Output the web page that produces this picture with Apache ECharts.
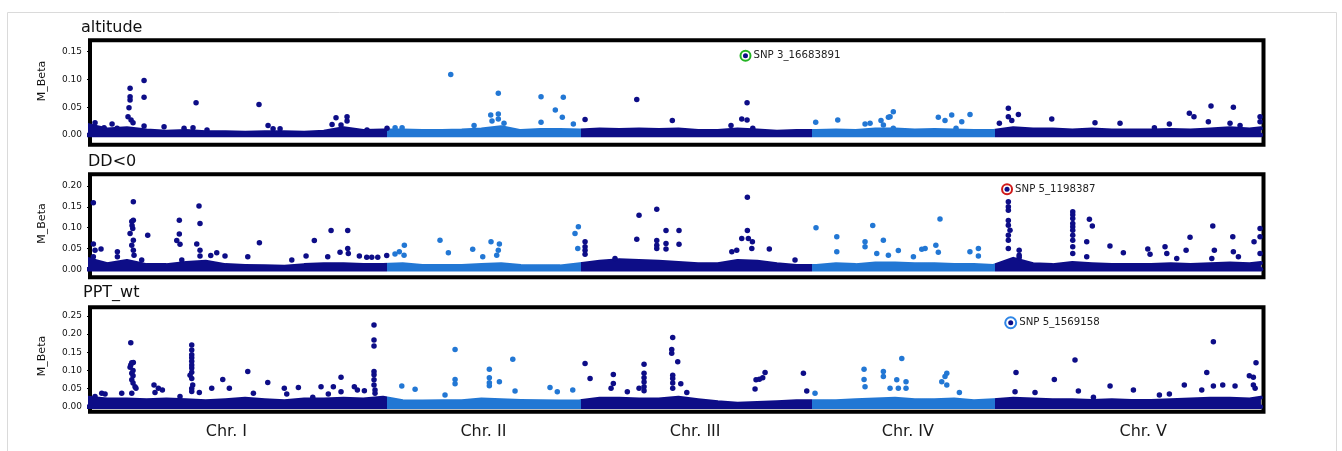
<!DOCTYPE html>
<html><head><meta charset="utf-8">
<script src="https://cdn.jsdelivr.net/npm/echarts@6/dist/echarts.min.js"></script>
<style>html,body{margin:0;padding:0;background:#fff}#c{width:1342px;height:451px}</style>
</head><body><div id="c"></div>
<script>
// ---------- data ----------
const chrNames = ['Chr. I', 'Chr. II', 'Chr. III', 'Chr. IV', 'Chr. V'];
const chrLengthsMb = [30.427671, 19.698289, 23.459830, 18.585056, 26.975502];
const chrLabelPos = [14.1, 40.2, 61.7, 83.3, 107.2];
const traitNames = ['altitude', 'DD<0', 'PPT_wt'];
const yTicksAltitude = [0, 0.05, 0.10, 0.15];
const yTicksDD = [0, 0.05, 0.10, 0.15, 0.20];
const yTicksPPT = [0, 0.05, 0.10, 0.15, 0.20, 0.25];

// top SNPs: [label, chromosome, position (bp), M_Beta]
const topSnpAltitude = ['SNP 3_16683891', 3, 16683891, 0.1426];
const topSnpDD = ['SNP 5_1198387', 5, 1198387, 0.192];
const topSnpPPT = ['SNP 5_1569158', 5, 1569158, 0.2315];

// dense background band (upper envelope of the many small effects), genome position in Mb
const bandPos = [0,2,4,6,8,10,12,14,16,18,20,22,24,26,28,30,32,34,36,38,40,42,44,46,48,50,52,54,56,58,
  60,62,64,66,68,70,72,74,76,78,80,82,84,86,88,90,92,94,96,98,100,102,104,106,108,110,112,114,116,118,119.15];
const altitudeBand = [0.018,0.010,0.012,0.008,0.006,0.007,0.005,0.005,0.004,0.005,
  0.005,0.004,0.006,0.012,0.007,0.008,0.008,0.007,0.007,0.008,
  0.010,0.014,0.007,0.009,0.009,0.008,0.010,0.009,0.010,0.009,
  0.010,0.007,0.007,0.010,0.008,0.006,0.007,0.007,0.008,0.007,
  0.010,0.010,0.008,0.009,0.008,0.007,0.007,0.012,0.010,0.010,
  0.008,0.010,0.008,0.008,0.008,0.009,0.008,0.010,0.012,0.010,0.012];
const ddBand = [0.025,0.012,0.020,0.010,0.010,0.015,0.018,0.010,0.008,0.007,
  0.006,0.010,0.012,0.012,0.010,0.010,0.012,0.008,0.008,0.008,
  0.010,0.012,0.008,0.007,0.007,0.012,0.018,0.022,0.020,0.018,
  0.015,0.012,0.012,0.020,0.018,0.012,0.008,0.008,0.012,0.010,
  0.014,0.014,0.012,0.012,0.010,0.010,0.008,0.025,0.012,0.010,
  0.015,0.012,0.010,0.010,0.010,0.012,0.010,0.012,0.014,0.012,0.015];
const pptBand = [0.025,0.020,0.020,0.018,0.020,0.018,0.015,0.018,0.022,0.018,
  0.015,0.020,0.020,0.022,0.020,0.025,0.015,0.014,0.015,0.015,
  0.020,0.018,0.016,0.015,0.014,0.015,0.022,0.022,0.020,0.020,
  0.025,0.018,0.012,0.008,0.010,0.012,0.015,0.015,0.015,0.018,
  0.020,0.022,0.018,0.018,0.020,0.015,0.018,0.022,0.020,0.018,
  0.018,0.016,0.018,0.016,0.016,0.018,0.020,0.022,0.022,0.020,0.025];

// individual SNPs above the band: [genome position Mb, M_Beta]
const altitudePoints = [
  [0.76,0.022],[1.68,0.013],[2.49,0.020],[3.0,0.012],[4.32,0.084],[4.32,0.069],[4.32,0.063],[4.21,0.049],
  [4.11,0.033],[4.42,0.027],[4.62,0.022],[5.74,0.098],[5.74,0.068],[5.74,0.016],[7.77,0.015],[9.8,0.012],
  [10.71,0.013],[11.02,0.058],[12.13,0.009],[17.41,0.055],[18.33,0.017],[18.84,0.011],[19.55,0.011],
  [24.83,0.019],[25.23,0.031],[25.74,0.018],[26.35,0.033],[26.35,0.025],[28.38,0.009],[30.41,0.012],
  [31.23,0.013],[31.94,0.013],[36.88,0.109],[41.71,0.075],[40.94,0.036],[41.71,0.038],[41.71,0.029],
  [42.29,0.021],[39.25,0.017],[41.07,0.025],[46.05,0.069],[46.05,0.023],[47.5,0.045],[48.31,0.068],
  [48.21,0.032],[49.33,0.020],[50.52,0.028],[55.77,0.064],[59.38,0.026],[65.34,0.017],[66.43,0.029],
  [66.97,0.058],[66.97,0.027],[67.55,0.012],[73.94,0.023],[76.18,0.027],[78.95,0.020],[79.46,0.021],
  [80.57,0.026],[81.32,0.032],[81.82,0.042],[81.49,0.033],[81.82,0.012],[80.81,0.018],[86.39,0.032],
  [87.07,0.026],[87.75,0.036],[88.77,0.024],[88.19,0.012],[89.61,0.037],[92.59,0.021],[93.5,0.048],
  [93.5,0.033],[94.52,0.037],[93.85,0.026],[97.91,0.029],[102.3,0.022],[104.84,0.021],[108.33,0.013],
  [109.85,0.020],[111.88,0.039],[112.35,0.033],[114.08,0.052],[113.81,0.024],[116.35,0.050],
  [116.01,0.021],[117.03,0.017],[119.06,0.033],[119.06,0.024]
];
const ddPoints = [
  [0.59,0.160],[0.59,0.061],[0.76,0.046],[0.59,0.030],[1.37,0.049],[3.03,0.042],[3.03,0.030],
  [4.65,0.162],[4.65,0.118],[4.49,0.115],[4.59,0.098],[4.32,0.086],[4.65,0.070],[4.49,0.058],
  [4.65,0.046],[4.72,0.034],[4.52,0.105],[5.5,0.022],[6.11,0.082],[9.32,0.118],[9.32,0.085],
  [9.06,0.069],[9.39,0.060],[9.57,0.022],[11.32,0.152],[11.42,0.110],[11.09,0.061],[11.42,0.046],
  [11.42,0.032],[12.51,0.033],[13.12,0.040],[13.96,0.032],[16.27,0.030],[17.45,0.064],[20.74,0.022],
  [22.19,0.032],[23.03,0.069],[24.39,0.030],[24.73,0.093],[25.64,0.041],[26.42,0.093],[26.42,0.050],
  [26.48,0.038],[27.6,0.032],[28.35,0.029],[28.86,0.029],[29.47,0.029],[30.38,0.033],[31.22,0.037],
  [31.66,0.042],[32.17,0.058],[32.14,0.034],[35.79,0.070],[36.64,0.040],[39.11,0.048],[40.13,0.030],
  [40.97,0.066],[41.82,0.061],[41.71,0.046],[41.55,0.034],[49.5,0.086],[49.84,0.102],[49.78,0.050],
  [50.52,0.066],[50.52,0.054],[50.52,0.046],[50.52,0.036],[53.56,0.026],[56.0,0.130],[55.77,0.072],
  [57.8,0.144],[57.8,0.069],[57.8,0.058],[57.8,0.050],[58.74,0.093],[58.74,0.062],[58.74,0.049],
  [60.06,0.093],[60.06,0.060],[67.0,0.173],[67.0,0.093],[66.43,0.074],[67.1,0.074],[67.51,0.066],
  [67.45,0.050],[65.92,0.046],[65.42,0.042],[69.23,0.049],[71.84,0.022],[73.97,0.100],[76.08,0.078],
  [76.08,0.042],[79.73,0.105],[78.95,0.066],[78.95,0.054],[80.81,0.070],[80.14,0.038],[82.33,0.045],
  [81.32,0.034],[83.86,0.030],[84.71,0.048],[85.05,0.050],[86.14,0.058],[86.56,0.121],[86.39,0.041],
  [89.6,0.042],[90.46,0.050],[90.46,0.032],
  [93.5,0.162],[93.5,0.150],[93.5,0.142],[93.5,0.117],[93.5,0.106],[93.67,0.094],[93.5,0.082],
  [93.5,0.070],[93.5,0.050],[94.6,0.046],[94.6,0.034],[94.6,0.028],
  [100.04,0.138],[100.04,0.131],[100.04,0.122],[100.04,0.110],[100.04,0.102],[100.04,0.094],
  [100.04,0.082],[100.04,0.070],[100.04,0.054],[100.04,0.038],
  [101.73,0.120],[102.03,0.104],[101.46,0.066],[101.46,0.030],[103.82,0.056],[105.18,0.040],
  [107.66,0.049],[107.89,0.036],[109.41,0.054],[109.59,0.038],[110.6,0.026],[111.55,0.046],
  [111.95,0.077],[114.26,0.104],[114.42,0.046],[114.16,0.026],[116.29,0.078],[116.35,0.042],
  [116.86,0.030],[118.45,0.066],[119.06,0.098],[119.06,0.078],[119.06,0.038]
];
const pptPoints = [
  [0.76,0.028],[1.44,0.037],[1.78,0.035],[3.47,0.037],
  [4.39,0.176],[4.49,0.121],[4.39,0.115],[4.32,0.109],[4.65,0.122],[4.49,0.092],[4.49,0.074],
  [4.82,0.055],[4.92,0.051],[4.49,0.037],[4.62,0.085],[4.62,0.100],[4.62,0.065],
  [6.75,0.060],[7.19,0.051],[7.6,0.046],[6.85,0.039],[9.39,0.028],
  [10.58,0.170],[10.58,0.156],[10.58,0.143],[10.58,0.135],[10.58,0.125],[10.58,0.115],[10.58,0.107],
  [10.58,0.095],[10.41,0.087],[10.58,0.078],[10.68,0.060],[10.58,0.050],[10.58,0.042],
  [11.35,0.039],[12.61,0.051],[13.73,0.075],[14.4,0.051],[16.27,0.097],[16.84,0.037],[18.3,0.067],
  [19.98,0.051],[20.23,0.035],[21.41,0.053],[22.87,0.026],[23.71,0.055],[24.45,0.035],[24.96,0.055],
  [25.74,0.081],[25.74,0.041],[27.09,0.055],[27.4,0.046],[28.11,0.044],
  [29.09,0.225],[29.09,0.184],[29.09,0.167],[29.09,0.097],[29.09,0.088],[29.09,0.074],[29.09,0.060],
  [29.19,0.046],[29.19,0.037],
  [31.91,0.057],[33.26,0.048],[36.3,0.032],[37.32,0.158],[37.32,0.075],[37.32,0.063],
  [40.8,0.103],[40.8,0.080],[40.8,0.066],[40.8,0.058],[41.82,0.069],[43.18,0.131],[43.41,0.043],
  [46.96,0.053],[47.7,0.041],[49.27,0.046],[50.52,0.119],[51.03,0.078],[53.39,0.089],[53.39,0.064],
  [53.16,0.051],[54.81,0.041],[56.0,0.051],
  [56.51,0.117],[56.51,0.092],[56.51,0.080],[56.51,0.068],[56.51,0.055],[56.51,0.044],
  [59.42,0.191],[59.32,0.158],[59.32,0.147],[59.93,0.124],[59.42,0.087],[59.42,0.078],[59.42,0.065],
  [59.42,0.051],[60.24,0.063],[60.85,0.039],
  [67.88,0.074],[68.22,0.076],[67.78,0.049],[68.8,0.094],[68.56,0.080],[72.69,0.092],[73.03,0.043],
  [73.87,0.037],[78.85,0.103],[78.85,0.075],[78.95,0.055],[80.81,0.097],[80.81,0.083],[82.68,0.133],
  [82.17,0.074],[83.11,0.069],[82.33,0.051],[83.11,0.051],[81.49,0.051],[87.25,0.092],[87.07,0.083],
  [86.74,0.069],[87.25,0.060],[88.53,0.039],
  [94.28,0.094],[94.18,0.041],[96.21,0.039],[98.17,0.075],[100.27,0.129],[100.61,0.043],[102.14,0.026],
  [103.83,0.057],[106.2,0.046],[108.84,0.032],[109.85,0.035],[111.37,0.060],[113.14,0.046],
  [113.65,0.094],[114.32,0.179],[114.32,0.057],[115.27,0.060],[116.52,0.057],[117.97,0.085],
  [118.38,0.081],[118.65,0.121],[118.38,0.060],[118.56,0.051]
];

// ---------- chart ----------
const DARK = '#0d0d87', LIGHT = '#2277d4';
const FONT = 'DejaVu Sans';
const chrOffset = [0];
chrLengthsMb.forEach((l, i) => chrOffset.push(chrOffset[i] + l));
const snpPos = s => chrOffset[s[1] - 1] + s[2] / 1e6;

const bands = [altitudeBand, ddBand, pptBand];
const points = [altitudePoints, ddPoints, pptPoints];
const tops = [topSnpAltitude, topSnpDD, topSnpPPT];
const yTicks = [yTicksAltitude, yTicksDD, yTicksPPT];
const ringColors = ['#22b322', '#d01a1a', '#2f86e6'];
const ringSizes = [10, 10, 11];

const grids = [
  {top: 40.3, height: 104.4},
  {top: 174.2, height: 103},
  {top: 307.2, height: 104.5}
];
const yRanges = [[-0.0175, 0.1705], [-0.019, 0.2283], [-0.0138, 0.2743]];
const titleLayout = [[81, 27.8], [88, 161.6], [83, 292.6]];
const yNameY = [81, 223.5, 356];

const option = {
  animation: false,
  backgroundColor: '#fff',
  textStyle: {fontFamily: FONT},
  grid: grids.map(g => ({left: 90, right: 78.5, top: g.top, height: g.height, show: true,
    borderColor: '#000', borderWidth: 4, backgroundColor: 'transparent'})),
  xAxis: grids.map((g, k) => ({
    type: 'value', gridIndex: k, min: 0.25, max: 119.41,
    axisLine: {show: false}, axisTick: {show: false}, splitLine: {show: false},
    axisLabel: k === 2 ? {
      show: true, customValues: chrLabelPos, fontSize: 16, margin: 12, color: '#1a1a1a', fontFamily: FONT,
      formatter: v => chrNames[chrLabelPos.indexOf(v)] || ''
    } : {show: false}
  })),
  yAxis: grids.map((g, k) => ({
    type: 'value', gridIndex: k, min: yRanges[k][0], max: yRanges[k][1],
    axisLine: {show: false}, splitLine: {show: false},
    axisTick: {show: true, length: 3, customValues: yTicks[k], lineStyle: {color: '#000', width: 1}},
    axisLabel: {show: true, customValues: yTicks[k], fontSize: 9, margin: 8, color: '#111', fontFamily: FONT,
      formatter: v => Number(v).toFixed(2)}
  })),
  series: [],
  graphic: []
};

const colored = [];
for (let k = 0; k < 3; k++) {
  const base = {xAxisIndex: k, yAxisIndex: k, silent: true};
  colored.push(option.series.length);
  option.series.push(Object.assign({}, base, {
    type: 'line', data: bandPos.map((p, j) => [p, bands[k][j]]), showSymbol: false,
    lineStyle: {width: 4, cap: 'round', join: 'round', opacity: 1}, areaStyle: {opacity: 1}, z: 1
  }));
  colored.push(option.series.length);
  option.series.push(Object.assign({}, base, {
    type: 'line', data: [[bandPos[0], 0], [bandPos[bandPos.length - 1], 0]], showSymbol: false,
    lineStyle: {width: 4.5, cap: 'round', opacity: 1}, z: 1
  }));
  colored.push(option.series.length);
  option.series.push(Object.assign({}, base, {
    type: 'scatter', data: points[k], symbolSize: 5.5, z: 3, itemStyle: {opacity: 1}
  }));
  const t = tops[k];
  option.series.push(Object.assign({}, base, {
    type: 'scatter', data: [[snpPos(t), t[3]]], symbolSize: ringSizes[k], z: 4,
    itemStyle: {color: '#fff', borderColor: ringColors[k], borderWidth: 2, opacity: 1},
    label: {show: true, position: 'right', distance: 2, formatter: t[0], fontSize: 10.2,
      color: '#222', fontFamily: FONT}
  }));
  colored.push(option.series.length);
  option.series.push(Object.assign({}, base, {
    type: 'scatter', data: [[snpPos(t), t[3]]], symbolSize: 5, z: 5, itemStyle: {opacity: 1}
  }));

  option.graphic.push({
    type: 'text', x: titleLayout[k][0], y: titleLayout[k][1], silent: true,
    style: {text: traitNames[k], fontSize: 16, fontFamily: FONT, fill: '#111', align: 'left', verticalAlign: 'middle'}
  });
  option.graphic.push({
    type: 'text', x: 42, y: yNameY[k], rotation: Math.PI / 2, silent: true,
    style: {text: 'M_Beta', fontSize: 11, fontFamily: FONT, fill: '#111', align: 'center', verticalAlign: 'middle'}
  });
}
option.graphic.push({
  type: 'rect', silent: true, z: -10,
  shape: {x: 7.5, y: 12.5, width: 1329, height: 460},
  style: {fill: 'none', stroke: '#dadada', lineWidth: 1}
});

option.visualMap = {
  type: 'piecewise', show: false, dimension: 0, seriesIndex: colored,
  pieces: chrLengthsMb.map((l, i) => {
    const p = {color: i % 2 === 0 ? DARK : LIGHT};
    if (i > 0) p.gte = chrOffset[i];
    if (i < chrLengthsMb.length - 1) p.lt = chrOffset[i + 1];
    return p;
  })
};

const chart = echarts.init(document.getElementById('c'), null, {renderer: 'canvas'});
chart.setOption(option);
</script></body></html>
